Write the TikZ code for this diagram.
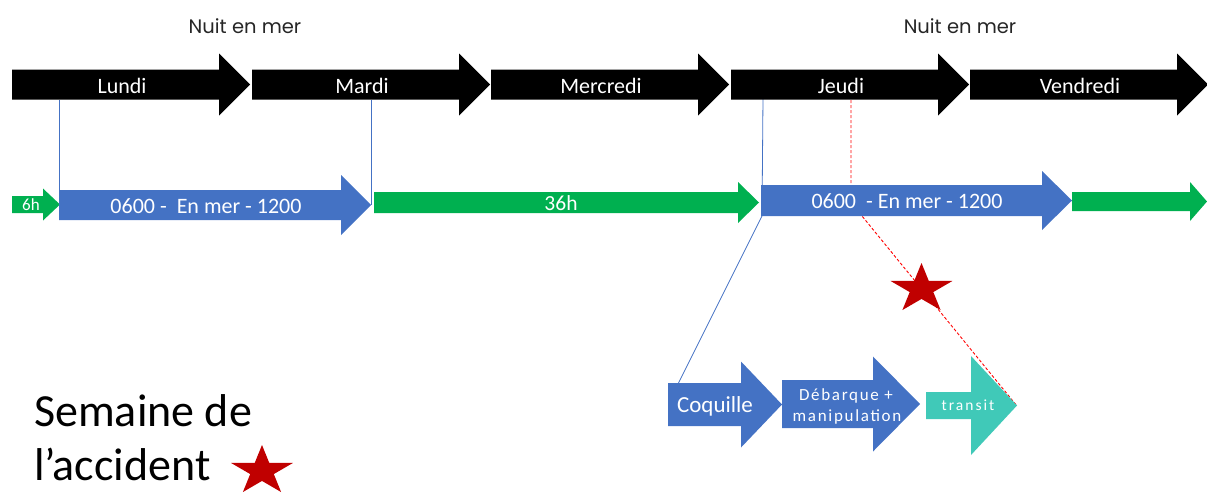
\documentclass[tikz,border=0pt]{standalone}
\usepackage{fontspec}
\setmainfont{Carlito}
\newfontfamily\nuitfont{Poppins}
\usetikzlibrary{shapes.geometric}
\definecolor{bleu}{HTML}{4472C4}
\definecolor{vert}{HTML}{00B050}
\definecolor{turquoise}{HTML}{40C9B8}
\definecolor{rouge}{HTML}{C00000}
% fleche : couleur, x debut, y centre, x base pointe, x pointe, demi corps, demi tete
\newcommand\fleche[7]{%
  \fill[#1] (#2,#3-#6) -- (#4,#3-#6) -- (#4,#3-#7) -- (#5,#3)
    -- (#4,#3+#7) -- (#4,#3+#6) -- (#2,#3+#6) -- cycle;}
\tikzset{
  texteblanc/.style={text=white, inner sep=0pt, anchor=base},
  etoile/.style={star, star points=5, star point ratio=2.618, fill=rouge,
    minimum size=52pt, inner sep=0pt, xscale=1.25},
  lien/.style={bleu, line width=0.8pt},
  pointille/.style={red, line width=0.9pt, dash pattern=on 3pt off 2pt},
}
\begin{document}
\begin{tikzpicture}[x=1pt,y=-1pt]
\useasboundingbox (0,0) rectangle (1207,493);
% Nuits
\node[font=\nuitfont\fontsize{19.5}{24}\selectfont, text=black!85] (nuit1) at (245,26) {Nuit en mer};
\node[font=\nuitfont\fontsize{19.5}{24}\selectfont, text=black!85] (nuit2) at (960,26) {Nuit en mer};
% Points des liens
\coordinate (l1) at (59,100);   \coordinate (b1) at (59,190);
\coordinate (l2) at (371,100);  \coordinate (b2) at (371,205);
\coordinate (j1) at (763,97);   \coordinate (j2) at (762,216);
\coordinate (coq) at (678,384);
\coordinate (r1) at (851,100);  \coordinate (r2) at (851,200);
\coordinate (r3) at (862,216);  \coordinate (tr) at (1017,406);
% Liens
\draw[lien] (l1) -- (b1);
\draw[lien] (l2) -- (b2);
\draw[lien] (j1) -- (j2) -- (coq);
\draw[pointille] (r1) -- (r2) -- (r3) -- (tr);
% Jours
\foreach \x/\jour in {12/Lundi,252/Mardi,491/Mercredi,731/Jeudi,970/Vendredi}{
  \fleche{black}{\x}{84.5}{\x+207}{\x+238}{15}{31}
  \node[texteblanc, font=\fontsize{22}{26}\selectfont] (\jour) at (\x+110,93) {\jour};
}
% Temps en mer
\fleche{vert}{12}{204.5}{43}{60}{8.5}{16}
\node[texteblanc, font=\fontsize{17}{20}\selectfont] (six) at (31,210) {6h};
\fleche{bleu}{59}{205}{341}{371}{15}{30}
\node[texteblanc, font=\fontsize{22}{26}\selectfont] (mer1) at (206,213) {0600 -\ \ En mer - 1200};
\fleche{vert}{374}{202.5}{738}{759}{10.5}{20.5}
\node[texteblanc, font=\fontsize{21.5}{25}\selectfont] (trente) at (561,210) {36h};
\fleche{bleu}{761}{200.5}{1042}{1072}{15.5}{29.5}
\node[texteblanc, font=\fontsize{22}{26}\selectfont] (mer2) at (907,208) {0600\ \ - En mer - 1200};
\fleche{vert}{1072}{201.5}{1190}{1207}{9.5}{19.5}
% Etapes
\fleche{bleu}{668}{404.5}{741}{782}{21.5}{43}
\node[texteblanc, font=\fontsize{23}{27}\selectfont] (coquille) at (715,412) {Coquille};
\fleche{bleu}{782}{404}{873}{920}{24}{47.5}
\node[texteblanc, font=\addfontfeatures{LetterSpace=10}\fontsize{17}{20}\selectfont] (debarque) at (846,400) {Débarque +};
\node[texteblanc, font=\addfontfeatures{LetterSpace=10}\fontsize{17}{20}\selectfont] (manip) at (847,421) {manipulation};
\fleche{turquoise}{926}{405.5}{971}{1017}{13.5}{49.5}
\node[texteblanc, font=\addfontfeatures{LetterSpace=13}\fontsize{15.5}{18}\selectfont] (transit) at (968,410) {transit};
% Accident
\node[etoile] (accident) at (921.5,289) {};
% Legende
\node[anchor=base west, inner sep=0pt, font=\fontsize{46}{54}\selectfont] (semaine) at (34,426) {Semaine de};
\node[anchor=base west, inner sep=0pt, font=\fontsize{46}{54}\selectfont] (laccident) at (34,480) {l’accident};
\node[etoile] (legende) at (262,471) {};
\end{tikzpicture}
\end{document}
